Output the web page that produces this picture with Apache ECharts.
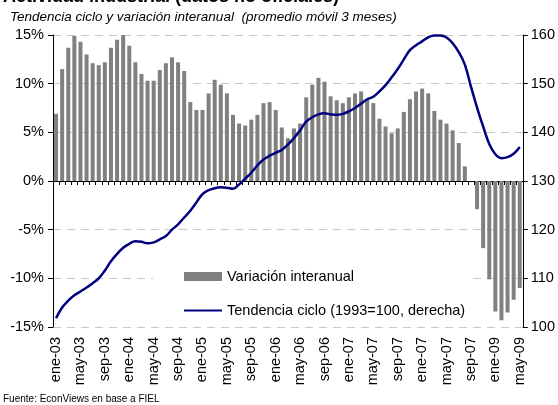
<!DOCTYPE html>
<html>
<head>
<meta charset="utf-8">
<script src="https://cdn.jsdelivr.net/npm/echarts@6/dist/echarts.min.js"></script>
<style>
html, body { margin: 0; padding: 0; background: #fff; }
#chart { width: 558px; height: 405px; }
</style>
</head>
<body>
<div id="chart"></div>
<script>
// meses ene-03 .. may-09
var meses = ['ene', 'feb', 'mar', 'abr', 'may', 'jun', 'jul', 'ago', 'sep', 'oct', 'nov', 'dic'];
var categorias = [];
for (var a = 2003; a <= 2009; a++) {
    for (var m = 0; m < 12; m++) {
        if (a === 2009 && m > 4) break;
        categorias.push(meses[m] + '-' + String(a).slice(2));
    }
}

// etiquetas tal como aparecen en el grafico original (cada 4 meses)
var etiquetas = ['ene-03', 'may-03', 'sep-03', 'ene-04', 'may-04', 'sep-04', 'ene-05', 'may-05',
    'sep-05', 'ene-06', 'may-06', 'sep-06', 'ene-07', 'may-07', 'sep-07', 'ene-07', 'may-07',
    'sep-07', 'ene-09', 'may-09'];

// variacion interanual (%)
var variacion = [6.9, 11.5, 13.7, 14.9, 14.3, 13.0, 12.1, 11.9, 12.2, 13.7,
    14.5, 15.0, 13.9, 12.2, 11.0, 10.3, 10.3, 11.4, 12.1, 12.7,
    12.2, 11.3, 8.1, 7.3, 7.3, 9.0, 10.4, 9.9, 9.0, 6.8,
    5.9, 5.7, 6.3, 6.8, 8.0, 8.1, 7.3, 5.5, 4.4, 5.4,
    5.9, 8.6, 9.9, 10.6, 10.2, 8.7, 8.3, 8.0, 8.6, 9.0,
    9.2, 8.4, 8.0, 6.4, 5.6, 4.9, 5.4, 7.1, 8.4, 9.2,
    9.5, 9.0, 7.2, 6.3, 5.9, 5.2, 3.9, 1.5, 0, -2.9,
    -6.9, -10.1, -13.4, -14.3, -13.5, -12.2, -11.0];

// tendencia ciclo (1993=100)
var tendencia = [101.8, 104.0, 105.4, 106.5, 107.3, 108.1, 109.0, 110.0, 111.6, 113.5,
    115.0, 116.3, 117.1, 117.6, 117.5, 117.2, 117.4, 118.0, 118.7, 120.0,
    121.1, 122.5, 123.9, 125.6, 127.3, 128.1, 128.5, 128.7, 128.6, 128.4,
    129.3, 130.5, 131.7, 133.2, 134.4, 135.2, 135.8, 136.4, 137.5, 138.8,
    140.4, 142.2, 143.1, 143.7, 143.9, 143.7, 143.6, 143.8, 144.3, 145.0,
    145.9, 146.8, 147.3, 148.4, 149.7, 151.3, 153.0, 155.0, 156.9, 157.9,
    158.7, 159.5, 159.9, 159.9, 159.5, 158.3, 156.5, 153.9, 149.4, 145.1,
    141.2, 137.6, 135.5, 134.7, 134.9, 135.6, 137.0];

var fuente = '"Liberation Sans", Arial, sans-serif';

var myChart = echarts.init(document.getElementById('chart'));
var option = {
    animation: false,
    textStyle: { fontFamily: fuente },
    graphic: [
        {
            type: 'text', x: 3, y: 6,
            style: { text: 'Actividad industrial (datos no oficiales)', font: 'bold 18px ' + fuente, fill: '#000', verticalAlign: 'bottom' }
        },
        {
            type: 'text', x: 10, y: 10,
            style: { text: 'Tendencia ciclo y variación interanual  (promedio móvil 3 meses)', font: 'italic 13.5px ' + fuente, fill: '#000', verticalAlign: 'top' }
        },
        {
            type: 'text', x: 3, y: 394,
            style: { text: 'Fuente: EconViews en base a FIEL', font: '10px ' + fuente, fill: '#000', verticalAlign: 'top' }
        }
    ],
    grid: { left: 53, right: 34, top: 35, bottom: 78 },
    legend: {
        orient: 'vertical',
        left: 153,
        top: 260,
        padding: [8, 8, 4, 30],
        itemGap: 17,
        itemWidth: 38,
        itemHeight: 9,
        backgroundColor: '#fff',
        textStyle: { fontSize: 14.5, color: '#000', lineHeight: 17 },
        data: [
            { name: 'Variación interanual', icon: 'rect' },
            {
                name: 'Tendencia ciclo (1993=100, derecha)',
                itemStyle: { color: 'rgba(0,0,0,0)', borderColor: 'rgba(0,0,0,0)', borderWidth: 0, opacity: 0 }
            }
        ]
    },
    xAxis: [
        {
            type: 'category',
            data: categorias,
            position: 'bottom',
            axisLine: { show: false, onZero: false },
            axisTick: { show: false },
            splitLine: { show: false },
            axisLabel: {
                rotate: 90,
                interval: 0,
                margin: 10,
                fontSize: 14.5,
                color: '#000',
                formatter: function (v, i) {
                    return i % 4 === 0 ? etiquetas[i / 4] : '';
                }
            }
        },
        {
            type: 'category',
            data: categorias,
            position: 'top',
            axisLine: { show: true, onZero: true, onZeroAxisIndex: 0, lineStyle: { color: '#000', width: 1 } },
            axisTick: { show: true, inside: true, length: 4, interval: 0, lineStyle: { color: '#000' } },
            axisLabel: { show: false },
            splitLine: { show: false }
        }
    ],
    yAxis: [
        {
            type: 'value',
            min: -15,
            max: 15,
            interval: 5,
            position: 'left',
            axisLine: { show: true, lineStyle: { color: '#000' } },
            axisTick: { show: true, length: 5, lineStyle: { color: '#000' } },
            axisLabel: { formatter: '{value}%', fontSize: 14.5, color: '#000', margin: 9 },
            splitLine: { show: true, lineStyle: { color: '#c8c8c8', type: [8, 6] } }
        },
        {
            type: 'value',
            min: 100,
            max: 160,
            interval: 10,
            position: 'right',
            axisLine: { show: true, lineStyle: { color: '#000' } },
            axisTick: { show: true, length: 5, lineStyle: { color: '#000' } },
            axisLabel: { fontSize: 14.5, color: '#000', margin: 8 },
            splitLine: { show: false }
        }
    ],
    series: [
        {
            name: 'Variación interanual',
            type: 'bar',
            xAxisIndex: 0,
            yAxisIndex: 0,
            barWidth: 4,
            itemStyle: { color: '#808080' },
            data: variacion
        },
        {
            name: 'Tendencia ciclo (1993=100, derecha)',
            type: 'line',
            xAxisIndex: 0,
            yAxisIndex: 1,
            smooth: 0.4,
            symbol: 'none',
            lineStyle: { color: '#000080', width: 2.5 },
            itemStyle: { color: '#000080' },
            z: 5,
            data: tendencia
        }
    ]
};
myChart.setOption(option);
</script>
</body>
</html>
